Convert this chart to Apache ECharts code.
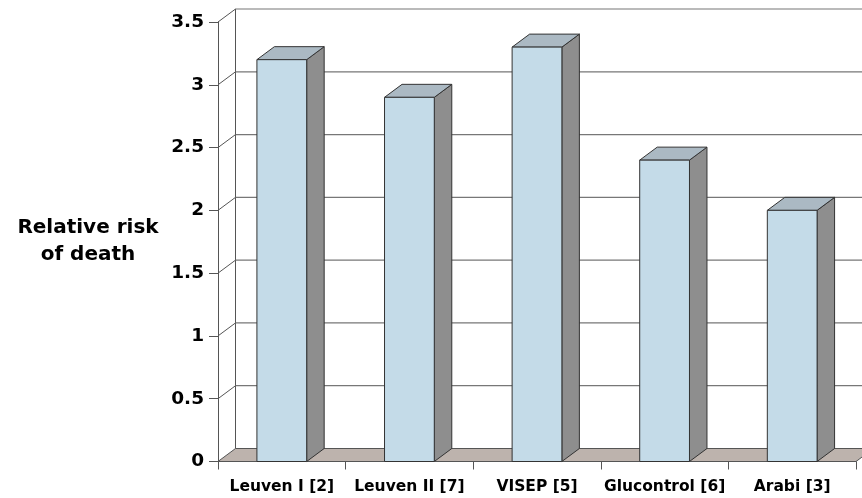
<!DOCTYPE html>
<html>
<head>
<meta charset="utf-8">
<script src="https://cdn.jsdelivr.net/npm/echarts@6/dist/echarts.min.js"></script>
<style>
  html, body { margin: 0; padding: 0; background: #fff; }
  #chart { width: 862px; height: 498px; }
</style>
</head>
<body>
<div id="chart"></div>
<script>
const categories = ['Leuven I [2]', 'Leuven II [7]', 'VISEP [5]', 'Glucontrol [6]', 'Arabi [3]'];
const relativeRisk = [3.2, 2.9, 3.3, 2.4, 2.0];
const yTicks = [0, 0.5, 1, 1.5, 2, 2.5, 3, 3.5];

// fake 3d depth, in pixels
const DX = 17.5;
const DY = -13;
const FONT = '"DejaVu Sans", "Liberation Sans", Arial, sans-serif';

const chart = echarts.init(document.getElementById('chart'));

function renderWall(params, api) {
  const cs = params.coordSys;
  const v = api.value(0);
  const y = api.coord([0, v])[1];
  const children = [];
  if (v === 0) {
    const yTop = api.coord([0, yTicks[yTicks.length - 1]])[1];
    children.push({
      type: 'polygon',
      shape: { points: [[cs.x, y], [cs.x + cs.width, y], [cs.x + cs.width + DX, y + DY], [cs.x + DX, y + DY]] },
      style: { fill: '#bdb3ad', stroke: '#555', lineWidth: 1 },
    });
    children.push({
      type: 'line',
      shape: { x1: cs.x + DX, y1: yTop + DY, x2: cs.x + DX, y2: y + DY },
      style: { stroke: '#555', lineWidth: 1 },
    });
  } else {
    children.push({
      type: 'line',
      shape: { x1: cs.x + DX, y1: y + DY, x2: cs.x + cs.width + DX, y2: y + DY },
      style: { stroke: '#777', lineWidth: 1.2 },
    });
    children.push({
      type: 'line',
      shape: { x1: cs.x, y1: y, x2: cs.x + DX, y2: y + DY },
      style: { stroke: '#555', lineWidth: 1 },
    });
  }
  return { type: 'group', children };
}

function renderBar(params, api) {
  const idx = api.value(0);
  const val = api.value(1);
  const base = api.coord([idx, 0]);
  const top = api.coord([idx, val]);
  const w = api.size([1, 0])[0] * 0.39;
  const x0 = base[0] - w / 2;
  const x1 = base[0] + w / 2;
  const yt = top[1];
  const yb = base[1];
  const edge = { stroke: '#333', lineWidth: 1 };
  return {
    type: 'group',
    children: [
      {
        type: 'polygon',
        shape: { points: [[x1, yt], [x1 + DX, yt + DY], [x1 + DX, yb + DY], [x1, yb]] },
        style: Object.assign({ fill: '#8e8e8e' }, edge),
      },
      {
        type: 'polygon',
        shape: { points: [[x0, yt], [x1, yt], [x1 + DX, yt + DY], [x0 + DX, yt + DY]] },
        style: Object.assign({ fill: '#abb9c3' }, edge),
      },
      {
        type: 'rect',
        shape: { x: x0, y: yt, width: w, height: yb - yt },
        style: Object.assign({ fill: '#c4dbe8' }, edge),
      },
    ],
  };
}

chart.setOption({
  animation: false,
  backgroundColor: '#fff',
  grid: { left: 218, right: 6, top: 22, bottom: 36.5, containLabel: false },
  xAxis: {
    type: 'category',
    data: categories,
    axisLine: { lineStyle: { color: '#555', width: 1 } },
    axisTick: { show: true, length: 8, lineStyle: { color: '#555' } },
    axisLabel: { interval: 0, color: '#000', fontFamily: FONT, fontWeight: 'bold', fontSize: 15.5, margin: 17 },
    splitLine: { show: false },
  },
  yAxis: {
    type: 'value',
    min: 0,
    max: 3.5,
    interval: 0.5,
    name: 'Relative risk\nof death',
    nameLocation: 'middle',
    nameRotate: 0,
    nameGap: 130,
    nameTextStyle: { color: '#000', fontFamily: FONT, fontWeight: 'bold', fontSize: 20, lineHeight: 27, align: 'center' },
    axisLine: { show: true, lineStyle: { color: '#555', width: 1 } },
    axisTick: { show: true, length: 9, lineStyle: { color: '#555' } },
    axisLabel: { color: '#000', fontFamily: FONT, fontWeight: 'bold', fontSize: 18.5, margin: 14 },
    splitLine: { show: false },
  },
  series: [
    {
      type: 'custom',
      renderItem: renderWall,
      data: yTicks.map((v) => [v]),
      encode: { y: 0 },
      z: 1,
      silent: true,
    },
    {
      type: 'custom',
      renderItem: renderBar,
      data: relativeRisk.map((v, i) => [i, v]),
      encode: { x: 0, y: 1 },
      z: 3,
    },
  ],
});
</script>
</body>
</html>
